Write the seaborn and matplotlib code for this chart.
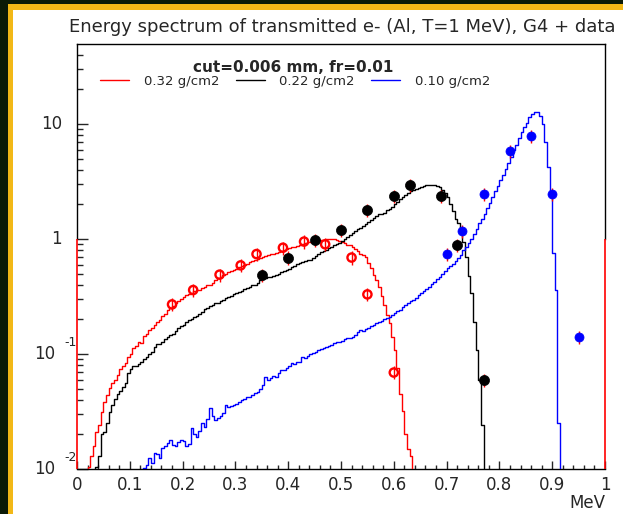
import numpy as np
import pandas as pd
import matplotlib
matplotlib.use("Agg")
import matplotlib.pyplot as plt
import matplotlib.transforms as mtransforms
from matplotlib.patches import Rectangle
from matplotlib.lines import Line2D
from matplotlib.ticker import FixedLocator, NullFormatter, LogLocator
import seaborn as sns

# ---------------------------------------------------------------------------
# Simulated spectra (G4), 0.005 MeV bins, first bin starting at *_start
# ---------------------------------------------------------------------------
BIN_WIDTH = 0.005

red_start = 0.020   # 0.32 g/cm2
red_counts = [
    0.0105, 0.013, 0.016, 0.021, 0.024, 0.031, 0.038, 0.044, 0.051, 0.056,
    0.060, 0.066, 0.074, 0.078, 0.083, 0.094, 0.100, 0.112, 0.118, 0.126,
    0.124, 0.142, 0.150, 0.162, 0.168, 0.180, 0.188, 0.198, 0.212, 0.222,
    0.240, 0.250, 0.262, 0.275, 0.290, 0.298, 0.312, 0.325, 0.335, 0.342,
    0.352, 0.358, 0.362, 0.375, 0.385, 0.395, 0.402, 0.418, 0.440, 0.462,
    0.470, 0.485, 0.500, 0.515, 0.522, 0.535, 0.552, 0.568, 0.580, 0.595,
    0.612, 0.628, 0.645, 0.660, 0.672, 0.685, 0.698, 0.710, 0.725, 0.738,
    0.748, 0.762, 0.778, 0.790, 0.802, 0.815, 0.830, 0.845, 0.860, 0.875,
    0.890, 0.905, 0.918, 0.935, 0.948, 0.955, 0.962, 0.972, 0.978, 0.985,
    0.992, 0.998, 1.000, 0.995, 0.985, 0.960, 0.940, 0.920, 0.895, 0.880,
    0.850, 0.820, 0.780, 0.745, 0.720, 0.700, 0.620, 0.560, 0.490, 0.440,
    0.380, 0.320, 0.265, 0.220, 0.185, 0.140, 0.108, 0.075, 0.045, 0.032,
    0.020, 0.015, 0.013,
]

black_start = 0.035  # 0.22 g/cm2
black_counts = [
    0.0105, 0.013, 0.020, 0.021, 0.025, 0.031, 0.036, 0.041, 0.045, 0.048,
    0.052, 0.056, 0.068, 0.074, 0.078, 0.079, 0.082, 0.086, 0.091, 0.094,
    0.100, 0.104, 0.116, 0.121, 0.123, 0.126, 0.134, 0.140, 0.146, 0.150,
    0.158, 0.168, 0.174, 0.180, 0.188, 0.196, 0.202, 0.208, 0.216, 0.225,
    0.232, 0.244, 0.252, 0.260, 0.268, 0.275, 0.280, 0.288, 0.295, 0.305,
    0.312, 0.320, 0.332, 0.340, 0.346, 0.356, 0.365, 0.375, 0.384, 0.395,
    0.402, 0.412, 0.438, 0.446, 0.455, 0.465, 0.472, 0.480, 0.490, 0.498,
    0.512, 0.525, 0.540, 0.552, 0.568, 0.585, 0.602, 0.615, 0.628, 0.640,
    0.652, 0.660, 0.685, 0.710, 0.740, 0.765, 0.790, 0.810, 0.830, 0.858,
    0.880, 0.900, 0.925, 0.955, 1.000, 1.050, 1.085, 1.120, 1.170, 1.225,
    1.255, 1.300, 1.350, 1.400, 1.450, 1.520, 1.580, 1.650, 1.640, 1.700,
    1.780, 1.840, 1.910, 2.000, 2.100, 2.220, 2.330, 2.430, 2.520, 2.610,
    2.680, 2.750, 2.800, 2.860, 2.900, 2.930, 2.950, 2.950, 2.930, 2.880,
    2.820, 2.680, 2.500, 2.300, 2.000, 1.750, 1.480, 1.380, 1.200, 0.950,
    0.700, 0.480, 0.340, 0.190, 0.108, 0.060, 0.024,
]

blue_start = 0.125   # 0.10 g/cm2
blue_counts = [
    0.0102, 0.0108, 0.0124, 0.0112, 0.0137, 0.0135, 0.0124, 0.0152, 0.0158, 0.0170,
    0.0178, 0.0162, 0.0158, 0.0172, 0.0180, 0.0176, 0.0158, 0.0165, 0.0226, 0.0200,
    0.0190, 0.0215, 0.0250, 0.0232, 0.0270, 0.0337, 0.0290, 0.0268, 0.0275, 0.0290,
    0.0305, 0.0360, 0.0345, 0.0352, 0.0362, 0.0370, 0.0382, 0.0395, 0.0410, 0.0425,
    0.0420, 0.0436, 0.0455, 0.0470, 0.0495, 0.0540, 0.0630, 0.0600, 0.0620, 0.0640,
    0.0630, 0.0680, 0.0730, 0.0720, 0.0760, 0.0790, 0.0830, 0.0820, 0.0845, 0.0860,
    0.0950, 0.0920, 0.0960, 0.1000, 0.1020, 0.1040, 0.1080, 0.1100, 0.1120, 0.1150,
    0.1170, 0.1200, 0.1240, 0.1260, 0.1270, 0.1300, 0.1340, 0.1370, 0.1390, 0.1410,
    0.1450, 0.1560, 0.1620, 0.1580, 0.1650, 0.1700, 0.1740, 0.1800, 0.1850, 0.1900,
    0.1950, 0.2000, 0.2060, 0.2110, 0.2200, 0.2280, 0.2350, 0.2420, 0.2550, 0.2650,
    0.2780, 0.2870, 0.2950, 0.3100, 0.3250, 0.3400, 0.3550, 0.3700, 0.3850, 0.4050,
    0.4250, 0.4500, 0.4700, 0.5000, 0.5300, 0.5600, 0.5800, 0.6100, 0.6500, 0.6900,
    0.7300, 0.8000, 0.8600, 0.9300, 1.0100, 1.1000, 1.2200, 1.3700, 1.5000, 1.6500,
    1.8500, 2.0500, 2.3300, 2.6000, 2.9000, 3.2500, 3.6000, 4.0500, 4.6000, 5.2000,
    5.9000, 6.6000, 7.6000, 8.5000, 9.4000, 10.300, 11.400, 12.300, 12.800, 12.600,
    11.800, 10.000, 7.000, 4.200, 2.300, 0.750, 0.360, 0.025,
]

# ---------------------------------------------------------------------------
# Measured points
# ---------------------------------------------------------------------------
red_data_x = [0.18, 0.22, 0.27, 0.31, 0.34, 0.39, 0.43, 0.47, 0.52, 0.55, 0.60]
red_data_y = [0.27, 0.36, 0.49, 0.59, 0.74, 0.84, 0.95, 0.90, 0.69, 0.33, 0.069]

black_data_x = [0.35, 0.40, 0.45, 0.50, 0.55, 0.60, 0.63, 0.69, 0.72, 0.77]
black_data_y = [0.49, 0.69, 0.98, 1.19, 1.78, 2.37, 2.95, 2.37, 0.89, 0.059]

blue_data_x = [0.70, 0.73, 0.77, 0.82, 0.86, 0.90, 0.95]
blue_data_y = [0.74, 1.18, 2.46, 5.8, 7.9, 2.46, 0.14]

data_rel_error = 0.13

series_labels = ["0.32 g/cm2", "0.22 g/cm2", "0.10 g/cm2"]
series_colors = ["#ff0000", "#000000", "#0000ff"]

x_ticks = [0.0, 0.1, 0.2, 0.3, 0.4, 0.5, 0.6, 0.7, 0.8, 0.9, 1.0]
x_tick_labels = ["0", "0.1", "0.2", "0.3", "0.4", "0.5", "0.6", "0.7", "0.8", "0.9", "1"]
y_decades = [0.01, 0.1, 1.0, 10.0]
y_label_base = ["10", "10", "1", "10"]
y_label_exp = ["-2", "-1", "", ""]

# red frame lines left by the 0.32 g/cm2 histogram at the range edges
edge_lines_x = [0.0, 1.0]
edge_lines_top = 1.0

title_text = "Energy spectrum of transmitted e- (Al, T=1 MeV), G4 + data"
note_text = "cut=0.006 mm, fr=0.01"

Y_MIN, Y_MAX = 0.01, 10 ** 1.696

# ---------------------------------------------------------------------------
sns.set_theme(style="white")
plt.rcParams["font.family"] = ["DejaVu Sans"]
text_color = "#262626"

W, H = 623, 514
fig = plt.figure(figsize=(W / 100, H / 100), dpi=100)
fig.patch.set_facecolor("white")

# window frame: dark outer strip and yellow inner strip on the top/left
dark = "#0b1a06"
gold = "#f2b817"
fig.patches.append(Rectangle((0, 0), 8 / W, 1, transform=fig.transFigure,
                             facecolor=dark, edgecolor="none", zorder=0))
fig.patches.append(Rectangle((0, 1 - 3.5 / H), 1, 3.5 / H, transform=fig.transFigure,
                             facecolor=dark, edgecolor="none", zorder=0))
fig.patches.append(Rectangle((8 / W, 0), 5.3 / W, 1 - 3.5 / H, transform=fig.transFigure,
                             facecolor=gold, edgecolor="none", zorder=0))
fig.patches.append(Rectangle((8 / W, 1 - 9.8 / H), 1, 6.3 / H, transform=fig.transFigure,
                             facecolor=gold, edgecolor="none", zorder=0))

ax_left, ax_right, ax_top, ax_bottom = 77, 605, 44, 469
ax = fig.add_axes([ax_left / W, 1 - ax_bottom / H,
                   (ax_right - ax_left) / W, (ax_bottom - ax_top) / H])
ax.set_facecolor("white")
axw = ax_right - ax_left
axh = ax_bottom - ax_top

edges = np.round(np.arange(0, 1 + BIN_WIDTH / 2, BIN_WIDTH), 4)
centers = edges[:-1] + BIN_WIDTH / 2


def full_range(start, counts):
    w = np.zeros(len(centers))
    i0 = int(round(start / BIN_WIDTH))
    w[i0:i0 + len(counts)] = counts
    return w


ax.set_yscale("log")
for start, counts, color in zip([red_start, black_start, blue_start],
                                [red_counts, black_counts, blue_counts],
                                series_colors):
    spec = pd.DataFrame({"energy": centers, "weight": full_range(start, counts)})
    sns.histplot(data=spec, x="energy", weights="weight", bins=list(edges),
                 element="step", fill=False, color=color, linewidth=1.0,
                 ax=ax, zorder=3)

# red edge lines along the frame below y = 1
ax.vlines(edge_lines_x, Y_MIN, edge_lines_top, colors="#ff0000", linewidth=1.2,
          zorder=10, clip_on=False)

# measured points with error bars
for xs, ys, color, open_marker, size in [
    (red_data_x, red_data_y, "#ff0000", True, 8.0),
    (black_data_x, black_data_y, "#000000", False, 9.8),
    (blue_data_x, blue_data_y, "#0000ff", False, 8.8),
]:
    ys_arr = np.asarray(ys)
    ax.errorbar(xs, ys, yerr=ys_arr * data_rel_error, fmt="none",
                ecolor="#ff0000", elinewidth=1.0, capsize=0, zorder=5)
    pts = pd.DataFrame({"energy": xs, "value": ys})
    if open_marker:
        sns.scatterplot(data=pts, x="energy", y="value", ax=ax, marker="o",
                        s=size ** 2 * 0.55, facecolors="none", edgecolor=color,
                        linewidth=1.7, zorder=6, legend=False)
    else:
        sns.scatterplot(data=pts, x="energy", y="value", ax=ax, marker="o",
                        s=size ** 2 * 0.55, color=color, edgecolor=color,
                        linewidth=0.5, zorder=6, legend=False)

ax.set_xlim(0, 1)
ax.set_ylim(Y_MIN, Y_MAX)

# axes frame; the side spines stop where the red edge lines take over
for side in ["left", "right", "top", "bottom"]:
    ax.spines[side].set_visible(True)
    ax.spines[side].set_color("#000000")
    ax.spines[side].set_linewidth(1.0)
ax.spines["left"].set_bounds(edge_lines_top, Y_MAX)
ax.spines["right"].set_bounds(edge_lines_top, Y_MAX)

ax.xaxis.set_major_locator(FixedLocator(x_ticks))
ax.xaxis.set_minor_locator(FixedLocator(np.round(np.arange(0, 1.0001, 0.02), 3)))
ax.set_xticklabels(x_tick_labels, fontsize=12, color=text_color)
ax.yaxis.set_major_locator(FixedLocator(y_decades))
ax.yaxis.set_minor_locator(LogLocator(base=10, subs=np.arange(2, 10)))
ax.yaxis.set_major_formatter(NullFormatter())
ax.yaxis.set_minor_formatter(NullFormatter())
ax.tick_params(axis="x", which="major", direction="in", length=6, width=1.0,
               pad=5, bottom=True, top=False)
ax.tick_params(axis="x", which="minor", direction="in", length=3, width=1.0,
               bottom=True, top=False)
ax.tick_params(axis="y", which="major", direction="in", length=8, width=1.0,
               left=True, right=False)
ax.tick_params(axis="y", which="minor", direction="in", length=4.3, width=1.0,
               left=True, right=False)

# decade labels: base number with a raised exponent
blend = mtransforms.blended_transform_factory(ax.transAxes, ax.transData)
for yv, base, ex in zip(y_decades, y_label_base, y_label_exp):
    if ex:
        ax.text((55 - ax_left) / axw, yv, base, transform=blend, ha="right",
                va="center", fontsize=12, color=text_color)
        t_up = mtransforms.offset_copy(blend, fig=fig, x=0, y=8.5, units="points")
        ax.text((64 - ax_left) / axw, yv, ex, transform=t_up, ha="left",
                va="center", fontsize=9, color=text_color)
    else:
        ax.text((62 - ax_left) / axw, yv, base, transform=blend, ha="right",
                va="center", fontsize=12, color=text_color)

ax.set_xlabel("MeV", loc="right", fontsize=12, color=text_color, labelpad=0)
ax.set_ylabel("")

fig.text(342 / W, 1 - 27 / H, title_text, ha="center", va="center",
         fontsize=13, color=text_color)

ax.text((293 - ax_left) / axw, 1 - (68 - ax_top) / axh, note_text,
        transform=ax.transAxes, ha="center", va="center", fontsize=11,
        fontweight="bold", color=text_color)

handles = [Line2D([], [], color=c, linewidth=1.0) for c in series_colors]
leg = ax.legend(handles, series_labels, ncol=3, loc="center",
                bbox_to_anchor=((295 - ax_left) / axw, 1 - (81 - ax_top) / axh),
                frameon=False, fontsize=9.5,
                handlelength=2.2, handletextpad=1.1, columnspacing=1.25,
                borderpad=0.0, borderaxespad=0.0)
for t in leg.get_texts():
    t.set_color(text_color)

fig.savefig("out.png", dpi=100)
